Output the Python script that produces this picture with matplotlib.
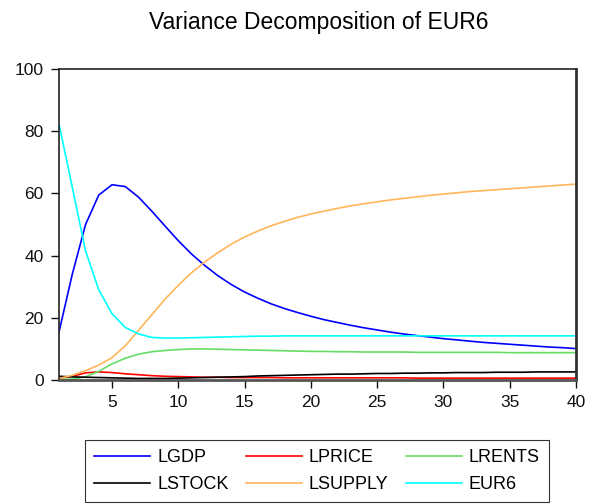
import matplotlib
matplotlib.use("Agg")
import matplotlib.pyplot as plt

plt.rcParams['font.family'] = ['Liberation Sans', 'DejaVu Sans']

periods = list(range(1, 41))

lgdp = [15.5, 34.0, 50.0, 59.5, 62.8, 62.2, 58.8, 54.3, 49.5, 44.8,
        40.5, 36.8, 33.5, 30.7, 28.3, 26.3, 24.5, 23.0, 21.7, 20.5,
        19.4, 18.5, 17.6, 16.8, 16.1, 15.4, 14.8, 14.3, 13.8, 13.3,
        12.9, 12.5, 12.1, 11.8, 11.5, 11.2, 10.9, 10.6, 10.4, 10.1]

lprice = [0.5, 1.2, 2.3, 2.6, 2.4, 2.0, 1.7, 1.4, 1.2, 1.1,
          1.0, 0.9, 0.9, 0.8, 0.8, 0.8, 0.8, 0.7, 0.7, 0.7,
          0.7, 0.7, 0.7, 0.7, 0.7, 0.7, 0.7, 0.6, 0.6, 0.6,
          0.6, 0.6, 0.6, 0.6, 0.6, 0.6, 0.6, 0.6, 0.6, 0.6]

lrents = [0.2, 0.3, 1.0, 2.8, 5.2, 7.0, 8.3, 9.1, 9.5, 9.8,
          10.0, 10.0, 9.9, 9.8, 9.7, 9.6, 9.5, 9.4, 9.3, 9.2,
          9.2, 9.1, 9.1, 9.0, 9.0, 9.0, 9.0, 8.9, 8.9, 8.9,
          8.9, 8.9, 8.9, 8.9, 8.8, 8.8, 8.8, 8.8, 8.8, 8.8]

lstock = [1.2, 1.0, 0.9, 0.8, 0.7, 0.6, 0.5, 0.5, 0.5, 0.6,
          0.7, 0.8, 0.9, 1.0, 1.1, 1.3, 1.4, 1.5, 1.6, 1.7,
          1.8, 1.9, 1.9, 2.0, 2.1, 2.1, 2.2, 2.2, 2.3, 2.3,
          2.4, 2.4, 2.4, 2.5, 2.5, 2.5, 2.6, 2.6, 2.6, 2.6]

lsupply = [0.5, 1.5, 3.0, 4.8, 7.2, 11.0, 16.0, 21.0, 26.0, 30.5,
           34.5, 38.0, 41.0, 43.7, 46.0, 47.9, 49.6, 51.0, 52.3, 53.4,
           54.3, 55.2, 56.0, 56.7, 57.3, 57.9, 58.4, 58.9, 59.4, 59.8,
           60.2, 60.6, 60.9, 61.2, 61.5, 61.8, 62.1, 62.4, 62.7, 63.0]

eur6 = [82.3, 62.0, 41.5, 29.0, 21.3, 16.9, 14.8, 13.7, 13.5, 13.5,
        13.6, 13.7, 13.8, 13.9, 14.0, 14.1, 14.1, 14.2, 14.2, 14.2,
        14.2, 14.2, 14.2, 14.2, 14.2, 14.2, 14.2, 14.2, 14.2, 14.2,
        14.2, 14.2, 14.2, 14.2, 14.2, 14.2, 14.2, 14.2, 14.2, 14.2]

series = {
    "LGDP": (lgdp, "#0000ff"),
    "LPRICE": (lprice, "#ff0000"),
    "LRENTS": (lrents, "#66dd66"),
    "LSTOCK": (lstock, "#000000"),
    "LSUPPLY": (lsupply, "#ffb55a"),
    "EUR6": (eur6, "#00ffff"),
}

fig = plt.figure(figsize=(5.95, 5.04), dpi=100)
ax = fig.add_axes([0.0992, 0.246, 0.8688, 0.617])

handles = {}
for name, (vals, col) in series.items():
    handles[name], = ax.plot(periods, vals, color=col, lw=1.2, label=name)

ax.set_xlim(1, 40)
ax.set_ylim(0, 100)
ax.set_xticks([5, 10, 15, 20, 25, 30, 35, 40])
ax.set_yticks([0, 20, 40, 60, 80, 100])
ax.tick_params(direction='out', length=6, width=1, labelsize=12.5,
               colors='#111111', pad=5)
for s in ax.spines.values():
    s.set_color('#222222')
    s.set_linewidth(1.2)
ax.spines['bottom'].set_color('#555555')
ax.spines['bottom'].set_linewidth(2.0)
ax.spines['right'].set_color('#333333')
ax.spines['right'].set_linewidth(2.0)

fig.text(0.535, 0.955, "Variance Decomposition of EUR6", ha='center',
         va='center', fontsize=16.5)

# legend rows: LGDP LPRICE LRENTS / LSTOCK LSUPPLY EUR6 (matplotlib fills by column)
order = ["LGDP", "LSTOCK", "LPRICE", "LSUPPLY", "LRENTS", "EUR6"]
leg = fig.legend([handles[n] for n in order], order, loc='lower left',
                 bbox_to_anchor=(85 / 595, 2 / 504), ncol=3, fontsize=13,
                 frameon=True, fancybox=False, edgecolor='#000000',
                 handlelength=3.1, handletextpad=0.4, columnspacing=0.95,
                 borderpad=0.5, labelspacing=0.55, borderaxespad=0)
leg.get_frame().set_linewidth(0.8)

fig.savefig("out.png", dpi=100)
